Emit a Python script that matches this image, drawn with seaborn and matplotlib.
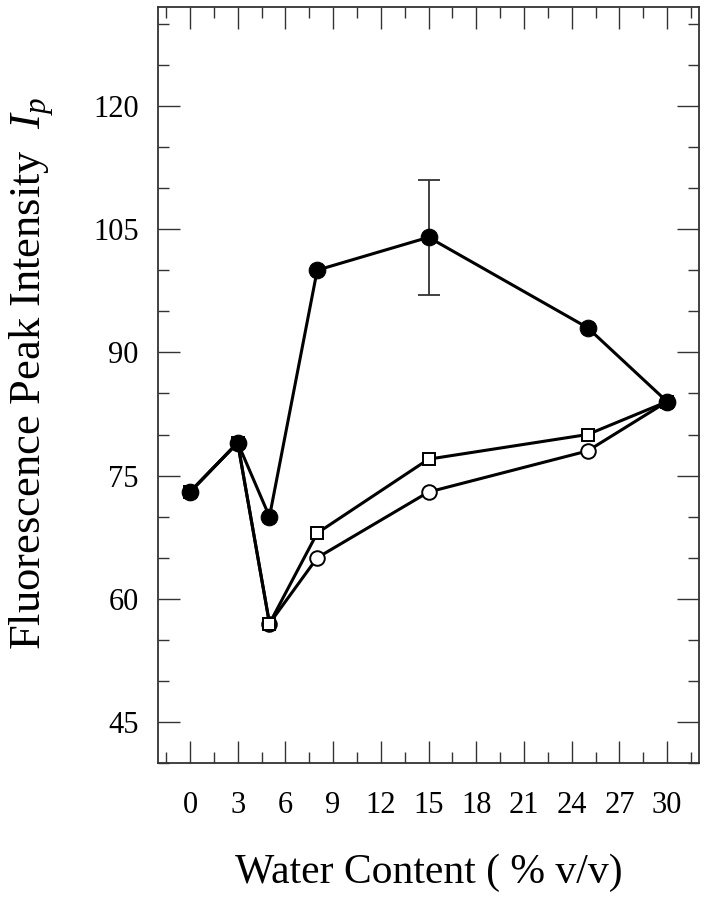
import numpy as np
import matplotlib
matplotlib.use("Agg")
import matplotlib.pyplot as plt
import pandas as pd
import seaborn as sns

# water content (% v/v)
water = [0, 3, 5, 8, 15, 25, 30]
# fluorescence peak intensity for the three series
filled_circles = [73, 79, 70, 100, 104, 93, 84]
open_squares = [73, 79, 57, 68, 77, 80, 84]
open_circles = [73, 79, 57, 65, 73, 78, 84]
# error bar on the filled series at 15 %
err_x = 15
err_y = 104
err_size = 7

sns.set_theme(style="ticks")
plt.rcParams["font.family"] = ["Liberation Serif", "DejaVu Serif"]
plt.rcParams["mathtext.fontset"] = "custom"
plt.rcParams["mathtext.rm"] = "Liberation Serif"
plt.rcParams["mathtext.it"] = "Liberation Serif:italic"
plt.rcParams["text.color"] = "black"
plt.rcParams["axes.labelcolor"] = "black"

fig = plt.figure(figsize=(7.06, 9.0), dpi=100)
ax = fig.add_axes([0.224, 0.152, 0.766, 0.840])

df = pd.DataFrame({"water": water, "filled": filled_circles,
                   "square": open_squares, "circle": open_circles})

sns.lineplot(data=df, x="water", y="circle", ax=ax, color="black", lw=2.2,
             marker="o", markersize=10.5, markerfacecolor="white",
             markeredgecolor="black", markeredgewidth=1.4)
sns.lineplot(data=df, x="water", y="square", ax=ax, color="black", lw=2.2,
             marker="s", markersize=9, markerfacecolor="white",
             markeredgecolor="black", markeredgewidth=1.4)
ax.errorbar([err_x], [err_y], yerr=[err_size], fmt="none", ecolor="#333333",
            elinewidth=1.3, capsize=8, capthick=1.3, zorder=1)
sns.lineplot(data=df, x="water", y="filled", ax=ax, color="black", lw=2.2,
             marker="o", markersize=12, markerfacecolor="black",
             markeredgecolor="black", zorder=5)

ax.set_xlim(-2, 32)
ax.set_ylim(40, 132)
ax.set_xticks(np.arange(0, 31, 3))
ax.set_xticks(np.arange(-1.5, 32, 3), minor=True)
ax.set_yticks(np.arange(45, 121, 15))
ax.set_yticks(np.arange(40, 132, 5), minor=True)

ax.tick_params(which="both", direction="in", top=True, right=True,
               colors="#333333", labelcolor="black")
ax.tick_params(which="major", length=16, width=1.0, labelsize=22)
ax.tick_params(which="minor", length=8, width=1.0)
ax.tick_params(axis="x", which="major", pad=20)
ax.tick_params(axis="y", which="major", pad=14)

for sp in ax.spines.values():
    sp.set_linewidth(1.3)
    sp.set_color("#333333")

ax.set_xlabel("Water Content ( % v/v)", fontsize=30, labelpad=24)
ax.set_ylabel(r"Fluorescence Peak Intensity  $I_p$", fontsize=32)
ax.yaxis.set_label_coords(-0.188, 0.515)

fig.savefig("out.png", dpi=100, facecolor="white")
